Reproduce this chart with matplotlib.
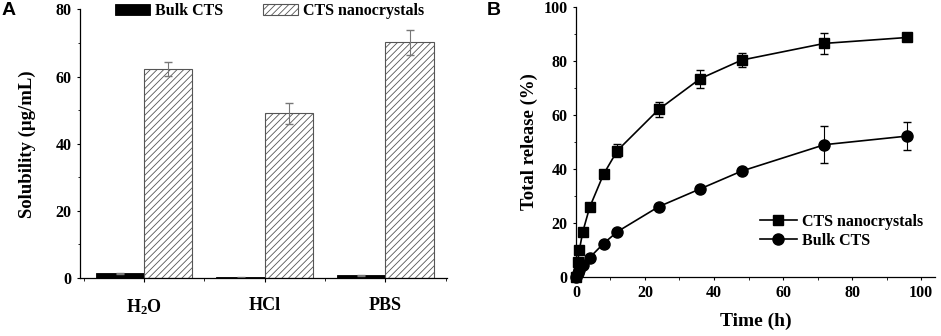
import numpy as np
import matplotlib
matplotlib.use('Agg')
import matplotlib.pyplot as plt
from matplotlib.ticker import MultipleLocator

plt.rcParams['font.family'] = 'Liberation Serif'
plt.rcParams['font.weight'] = 'bold'
plt.rcParams['mathtext.fontset'] = 'custom'
plt.rcParams['mathtext.rm'] = 'Liberation Serif:bold'
plt.rcParams['mathtext.bf'] = 'Liberation Serif:bold'
plt.rcParams['hatch.linewidth'] = 0.6
plt.rcParams['hatch.color'] = '#555555'
plt.rcParams['axes.linewidth'] = 0.9

# --- Panel A data: solubility ---
media = [r'$\mathbf{H_2O}$', 'HCl', 'PBS']
bulk_sol = [1.4, 0.2, 0.8]
bulk_err = [0.2, 0.05, 0.15]
nano_sol = [62.2, 49.1, 70.2]
nano_err = [2.0, 3.1, 3.8]

# --- Panel B data: release profile ---
time_h = [0, 0.5, 1, 2, 4, 8, 12, 24, 36, 48, 72, 96]
nano_rel = [0, 5.5, 9.9, 16.7, 25.8, 38.0, 46.8, 62.1, 73.5, 80.4, 86.6, 88.8]
nano_rel_err = [0, 0.5, 0.8, 1.0, 1.2, 1.5, 2.3, 2.9, 3.3, 2.6, 3.8, 0.6]
bulk_rel = [0, 1.3, 2.4, 4.3, 7.1, 12.3, 16.7, 26.0, 32.6, 39.2, 49.0, 52.2]
bulk_rel_err = [0, 0.2, 0.3, 0.4, 0.5, 0.6, 0.8, 0.9, 1.0, 1.0, 6.8, 5.3]

fig = plt.figure(figsize=(9.41, 3.36), dpi=100)

# ---------- Panel A ----------
axA = fig.add_axes([0.085, 0.1726, 0.39, 0.7994])
x = np.arange(len(media))
w = 0.4
axA.bar(x - w / 2, bulk_sol, w, color='black', edgecolor='black', linewidth=0.6,
        label='Bulk CTS', yerr=bulk_err, ecolor='#777777', capsize=3,
        error_kw={'elinewidth': 0.8})
axA.bar(x + w / 2, nano_sol, w, color='white', edgecolor='#555555', hatch='/////',
        linewidth=0.8, label='CTS nanocrystals', yerr=nano_err, ecolor='#777777',
        capsize=3, error_kw={'elinewidth': 0.8})
axA.set_xlim(-0.53, 2.51)
axA.set_ylim(0, 80)
axA.set_xticks(x)
axA.set_xticklabels(media, fontsize=13)
axA.xaxis.set_minor_locator(MultipleLocator(0.5))
axA.yaxis.set_major_locator(MultipleLocator(20))
axA.yaxis.set_minor_locator(MultipleLocator(10))
axA.set_ylabel('Solubility (μg/mL)', fontsize=13.5, fontweight='bold', labelpad=14)
axA.tick_params(axis='y', labelsize=11.5, direction='out', length=2.5)
axA.tick_params(axis='x', direction='out', length=3, pad=11)
axA.tick_params(which='minor', length=1.8)
for s in ['top', 'right']:
    axA.spines[s].set_visible(False)
axA.legend(loc='upper left', bbox_to_anchor=(115 / 941, 1 - 3 / 336),
           bbox_transform=fig.transFigure, borderpad=0, borderaxespad=0,
           ncol=2, frameon=False, fontsize=11.5, handlelength=2.2, handleheight=0.7,
           columnspacing=2.5, handletextpad=0.3)
fig.text(0.002, 0.995, 'A', fontsize=14, fontweight='bold', family='Liberation Sans',
         va='top', ha='left')

# ---------- Panel B ----------
axB = fig.add_axes([0.612, 0.1765, 0.3816, 0.8018])
eb_nano = axB.errorbar(time_h, nano_rel, yerr=nano_rel_err, color='black', marker='s',
                       markersize=7, linewidth=1.2, capsize=3, elinewidth=0.8,
                       label='CTS nanocrystals', clip_on=False)
eb_bulk = axB.errorbar(time_h, bulk_rel, yerr=bulk_rel_err, color='black', marker='o',
                       markersize=8, linewidth=1.2, capsize=3, elinewidth=0.8,
                       label='Bulk CTS', clip_on=False)
axB.set_xlim(0, 104)
axB.set_ylim(0, 100)
axB.xaxis.set_major_locator(MultipleLocator(20))
axB.xaxis.set_minor_locator(MultipleLocator(10))
axB.yaxis.set_major_locator(MultipleLocator(20))
axB.yaxis.set_minor_locator(MultipleLocator(10))
axB.set_xlabel('Time (h)', fontsize=14, fontweight='bold', labelpad=8.5)
axB.set_ylabel('Total release (%)', fontsize=13.5, fontweight='bold')
axB.tick_params(labelsize=11.5, direction='out', length=2.5)
axB.tick_params(which='minor', length=1.8)
for s in ['top', 'right']:
    axB.spines[s].set_visible(False)
axB.legend(handles=[eb_nano[0], eb_bulk[0]], labels=['CTS nanocrystals', 'Bulk CTS'],
           loc='lower left', bbox_to_anchor=(0.513, 0.103), borderpad=0, borderaxespad=0,
           frameon=False, fontsize=11.5, handlelength=2.3, handletextpad=0.3,
           labelspacing=0.2)
fig.text(0.517, 0.995, 'B', fontsize=14, fontweight='bold', family='Liberation Sans',
         va='top', ha='left')

fig.savefig('out.png', dpi=100)
